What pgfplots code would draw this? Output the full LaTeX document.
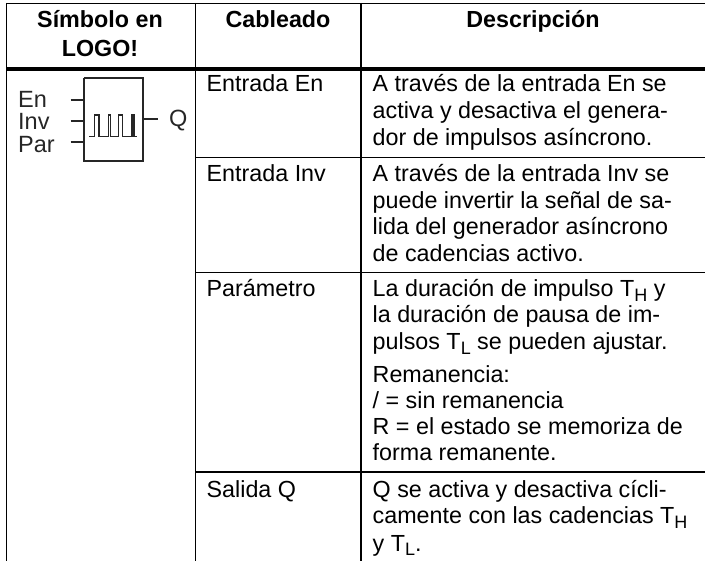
\documentclass[border=0pt]{standalone}
\usepackage{pgfplots}
\pgfplotsset{compat=1.18}
\usepackage{fontspec}
\setmainfont{Liberation Sans}
\newcommand{\bodysize}{\fontsize{23.3}{27}\selectfont}
\newcommand{\sub}[1]{\raisebox{-4.5pt}{\fontsize{18}{18}\selectfont #1}}
\newcommand{\T}[3]{\node[anchor=base west,inner sep=0pt,font=\bodysize] at (axis cs:#1,#2) {#3};}
\newcommand{\HD}[3]{\node[anchor=base,inner sep=0pt,font=\bodysize\bfseries] at (axis cs:#1,#2) {#3};}
\newcommand{\SY}[3]{\node[anchor=base west,inner sep=0pt,font=\fontsize{23.5}{23.5}\selectfont,text=black!85] at (axis cs:#1,#2) {#3};}
\begin{document}
\begin{tikzpicture}
\begin{axis}[
  width=705pt,height=561pt,scale only axis,hide axis,
  xmin=0,xmax=705,ymin=0,ymax=561,y dir=reverse]
\path (axis cs:0,0) -- (axis cs:705,561);
% table rules
\addplot[black,line width=1.4pt] coordinates {(6.5,3.5) (705,3.5)};
\addplot[black,line width=4pt] coordinates {(6.5,69) (705,69)};
\addplot[black,line width=1.3pt] coordinates {(6.5,3) (6.5,561)};
\addplot[black,line width=1.3pt] coordinates {(195.5,3) (195.5,561)};
\addplot[black,line width=1.3pt] coordinates {(361,3) (361,561)};
\addplot[black,line width=1.3pt] coordinates {(195.5,157.7) (705,157.7)};
\addplot[black,line width=1.3pt] coordinates {(195.5,272.5) (705,272.5)};
\addplot[black,line width=1.3pt] coordinates {(195.5,472) (705,472)};
% symbol
\addplot[black!85,line width=1.8pt] coordinates {(84,77.7) (143.3,77.7) (143.3,161) (84,161) (84,77.7)};
\addplot[black!85,line width=1.6pt] coordinates {(70.7,100.3) (84,100.3)};
\addplot[black!85,line width=1.6pt] coordinates {(70.7,121.3) (84,121.3)};
\addplot[black!85,line width=1.6pt] coordinates {(70.7,142.3) (84,142.3)};
\addplot[black!85,line width=1.6pt] coordinates {(143.3,119) (158,119)};
\addplot[black!85,line width=1.4pt] coordinates {(89.3,136.7) (94.3,136.7) (94.3,115) (99,115) (99,136.7) (108.5,136.7) (108.5,115) (110.5,115) (110.5,136.7) (118.3,136.7) (118.3,115) (122.7,115) (122.7,136.7) (132,136.7) (132,115) (134,115) (134,136.7) (137.3,136.7)};
\SY{18}{107.3}{En}
\SY{18}{130}{Inv}
\SY{18}{152.7}{Par}
\SY{169}{127}{Q}
% header
\HD{100}{28}{Símbolo en}
\HD{100}{57}{LOGO!}
\HD{278}{28}{Cableado}
\HD{533}{28}{Descripción}
% column 2
\T{206.5}{92}{Entrada En}
\T{206.5}{182}{Entrada Inv}
\T{206.5}{297}{Parámetro}
\T{206.5}{498}{Salida Q}
% column 3
\T{372.5}{92}{A través de la entrada En se}
\T{372.5}{119}{activa y desactiva el genera-}
\T{372.5}{146}{dor de impulsos asíncrono.}
\T{372.5}{182}{A través de la entrada Inv se}
\T{372.5}{209}{puede invertir la señal de sa-}
\T{372.5}{235}{lida del generador asíncrono}
\T{372.5}{262}{de cadencias activo.}
\T{372.5}{297}{La duración de impulso T\sub{H} y}
\T{372.5}{323}{la duración de pausa de im-}
\T{372.5}{350}{pulsos T\sub{L} se pueden ajustar.}
\T{372.5}{383}{Remanencia:}
\T{372.5}{409}{/ = sin remanencia}
\T{372.5}{435}{R = el estado se memoriza de}
\T{372.5}{461}{forma remanente.}
\T{372.5}{498}{Q se activa y desactiva cícli-}
\T{372.5}{524}{camente con las cadencias T\sub{H}}
\T{372.5}{551}{y T\sub{L}.}
\end{axis}
\end{tikzpicture}
\end{document}
